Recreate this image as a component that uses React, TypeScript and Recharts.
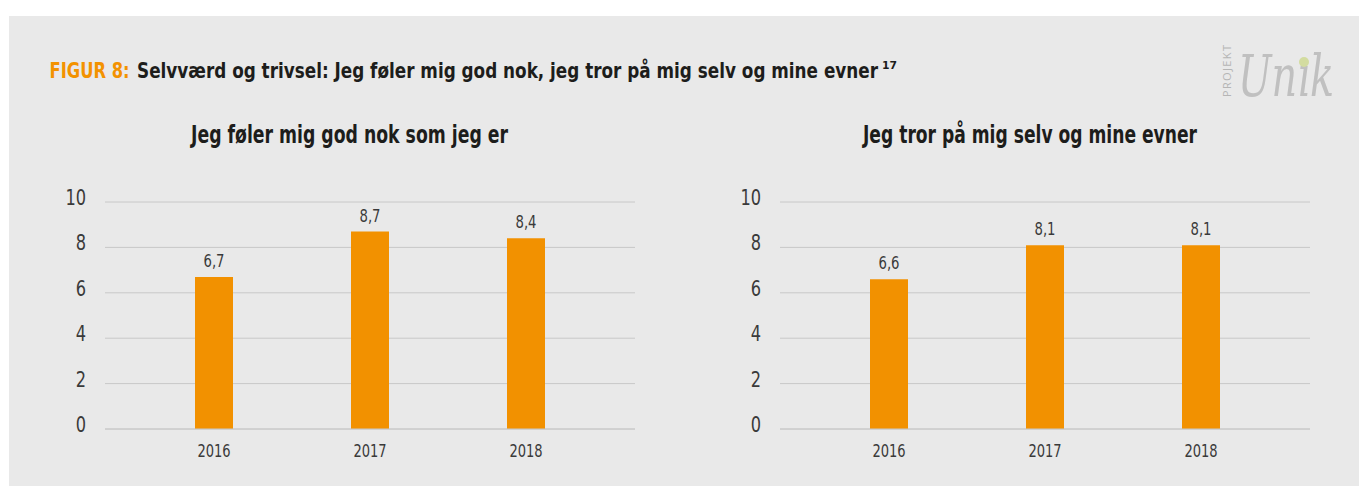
import React from "react";
import { BarChart, Bar, XAxis, YAxis, CartesianGrid, LabelList } from "recharts";

const years = ["2016", "2017", "2018"];
const godNokValues = [6.7, 8.7, 8.4];
const troPaaValues = [6.6, 8.1, 8.1];
const yTicks = [0, 2, 4, 6, 8, 10];

const mainTitlePrefix = "FIGUR 8:";
const mainTitleText = "Selvværd og trivsel: Jeg føler mig god nok, jeg tror på mig selv og mine evner";
const mainTitleSup = "17";
const chartTitle1 = "Jeg føler mig god nok som jeg er";
const chartTitle2 = "Jeg tror på mig selv og mine evner";

const ORANGE = "#f29100";
const GRID = "#c8c8c8";
const BG = "#e9e9e9";
const FONT = "'DejaVu Sans Condensed', 'DejaVu Sans', Arial, sans-serif";
const TICK_COLOR = "#3a3a3a";

const data1 = years.map((y, i) => ({ year: y, value: godNokValues[i] }));
const data2 = years.map((y, i) => ({ year: y, value: troPaaValues[i] }));

const fmt = (v: number) => String(v).replace(".", ",");

const YTick = (props: any) => {
  const { x, y, payload } = props;
  const s = String(payload.value);
  return (
    <text
      x={x - 19}
      y={y + 3}
      textAnchor="end"
      fontSize={22}
      fontFamily={FONT}
      fill={TICK_COLOR}
      textLength={s.length * 10.3}
      lengthAdjust="spacingAndGlyphs"
    >
      {s}
    </text>
  );
};

const XTick = (props: any) => {
  const { x, y, payload } = props;
  const s = String(payload.value);
  return (
    <text
      x={x - (s.length * 8.3) / 2}
      y={y + 28}
      fontSize={18}
      fontFamily={FONT}
      fill={TICK_COLOR}
      textLength={s.length * 8.3}
      lengthAdjust="spacingAndGlyphs"
    >
      {s}
    </text>
  );
};

const BarLabel = (props: any) => {
  const { x, y, width, value } = props;
  const s = fmt(value);
  const w = 21;
  return (
    <text
      x={x + width / 2 - w / 2}
      y={y - 10}
      fontSize={18}
      fontFamily={FONT}
      fill={TICK_COLOR}
      textLength={w}
      lengthAdjust="spacingAndGlyphs"
    >
      {s}
    </text>
  );
};

const Panel = ({ data, left }: { data: any[]; left: number }) => (
  <div style={{ position: "absolute", left, top: 150 }}>
    <BarChart width={680} height={320} data={data} margin={{ top: 52, right: 45, left: 0, bottom: 11 }}>
      <CartesianGrid vertical={false} stroke={GRID} strokeWidth={1} />
      <XAxis
        dataKey="year"
        height={30}
        tickSize={0}
        tickMargin={0}
        tickLine={false}
        axisLine={{ stroke: GRID, strokeWidth: 1 }}
        padding={{ left: 31, right: 31 }}
        tick={<XTick />}
      />
      <YAxis
        width={105}
        domain={[0, 10]}
        ticks={yTicks}
        tickSize={0}
        tickMargin={0}
        tickLine={false}
        axisLine={false}
        tick={<YTick />}
      />
      <Bar dataKey="value" fill={ORANGE} barSize={38} isAnimationActive={false}>
        <LabelList dataKey="value" content={<BarLabel />} />
      </Bar>
    </BarChart>
  </div>
);

export default function App() {
  return (
    <div style={{ position: "absolute", left: 0, top: 0, width: 1360, height: 486, background: "#ffffff", overflow: "hidden" }}>
      <div style={{ position: "absolute", left: 9, top: 16, width: 1350, height: 470, background: BG }} />
      <svg width={1360} height={486} style={{ position: "absolute", left: 0, top: 0 }}>
        <text x={49.6} y={78.3} fontSize={22} fontWeight="bold" fontFamily={FONT} fill="#f39200" textLength={80} lengthAdjust="spacingAndGlyphs">
          {mainTitlePrefix}
        </text>
        <text x={137} y={78.3} fontSize={22} fontWeight="bold" fontFamily={FONT} fill="#1d1d1b" textLength={741} lengthAdjust="spacingAndGlyphs">
          {mainTitleText}
        </text>
        <text x={882} y={69} fontSize={10} fontWeight="bold" fontFamily={FONT} fill="#1d1d1b" textLength={15} lengthAdjust="spacingAndGlyphs">
          {mainTitleSup}
        </text>
        <text x={191} y={143.3} fontSize={25} fontWeight="bold" fontFamily={FONT} fill="#1d1d1b" textLength={317} lengthAdjust="spacingAndGlyphs">
          {chartTitle1}
        </text>
        <text x={863} y={143.3} fontSize={25} fontWeight="bold" fontFamily={FONT} fill="#1d1d1b" textLength={334} lengthAdjust="spacingAndGlyphs">
          {chartTitle2}
        </text>
        {/* logo */}
        <text
          x={1231}
          y={97}
          fontSize={11}
          fontFamily="'Open Sans', sans-serif"
          fill="#b5b5b5"
          transform="rotate(-90 1231 97)"
          textLength={52}
          lengthAdjust="spacing"
        >
          PROJEKT
        </text>
        <text x={1238} y={96} fontSize={58} fontStyle="italic" fontFamily="'DejaVu Serif', serif" fill="#c0c0c0" textLength={96} lengthAdjust="spacingAndGlyphs">
          Unık
        </text>
        <circle cx={1304} cy={62} r={5} fill="#d3dca0" />
      </svg>
      <Panel data={data1} left={0} />
      <Panel data={data2} left={675} />
    </div>
  );
}
